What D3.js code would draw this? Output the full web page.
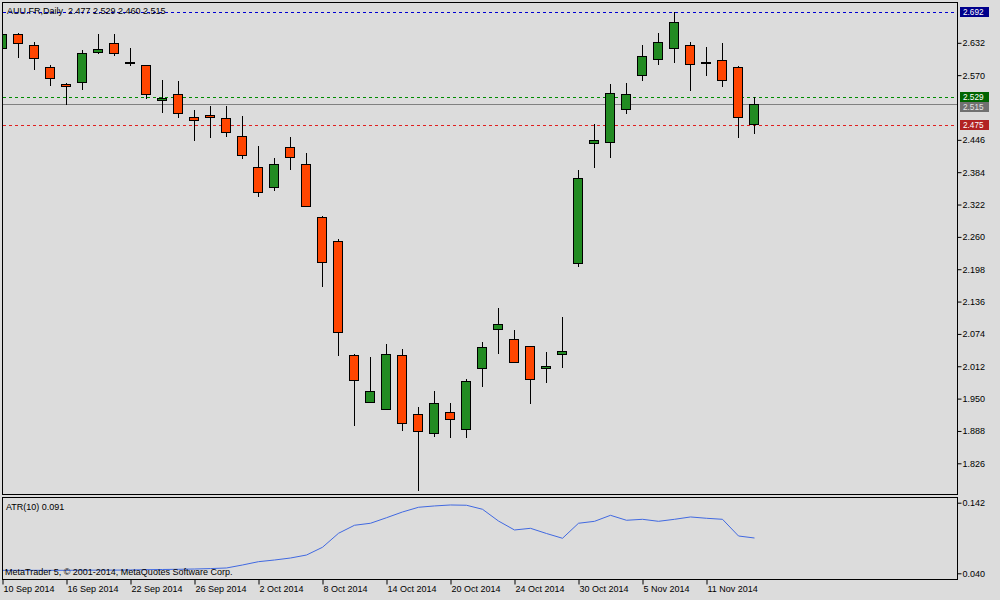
<!DOCTYPE html>
<html><head><meta charset="utf-8">
<script src="https://cdn.jsdelivr.net/npm/d3@7"></script>
<style>
body{margin:0;background:#dcdcdc}
svg{display:block}
text{font-family:"Liberation Sans",Arial,sans-serif;font-size:9px;fill:#000}
</style>
</head><body>
<svg id="chart" width="1000" height="600"></svg>
<script>
const header = "AUU.FR,Daily  2.477 2.529 2.460 2.515";
const atrTitle = "ATR(10) 0.091";
const copyright = "MetaTrader 5, © 2001-2014, MetaQuotes Software Corp.";

const dates = ["10 Sep 2014","11 Sep 2014","12 Sep 2014","15 Sep 2014","16 Sep 2014","17 Sep 2014","18 Sep 2014","19 Sep 2014","22 Sep 2014","23 Sep 2014","24 Sep 2014","25 Sep 2014","26 Sep 2014","29 Sep 2014","30 Sep 2014",
"1 Oct 2014","2 Oct 2014","3 Oct 2014","6 Oct 2014","7 Oct 2014","8 Oct 2014","9 Oct 2014","10 Oct 2014","13 Oct 2014","14 Oct 2014","15 Oct 2014","16 Oct 2014","17 Oct 2014","20 Oct 2014","21 Oct 2014","22 Oct 2014","23 Oct 2014","24 Oct 2014","27 Oct 2014","28 Oct 2014","29 Oct 2014","30 Oct 2014","31 Oct 2014",
"3 Nov 2014","4 Nov 2014","5 Nov 2014","6 Nov 2014","7 Nov 2014","10 Nov 2014","11 Nov 2014","12 Nov 2014","13 Nov 2014","14 Nov 2014"];

const open  = [2.622,2.649,2.628,2.586,2.553,2.557,2.614,2.631,2.595,2.589,2.522,2.534,2.490,2.493,2.488,2.453,2.394,2.355,2.432,2.399,2.298,2.252,2.033,1.943,1.931,2.033,1.920,1.884,1.924,1.891,2.008,2.083,2.064,2.050,2.008,2.035,2.210,2.439,2.442,2.505,2.570,2.601,2.622,2.628,2.596,2.599,2.585,2.477];
const high  = [2.650,2.650,2.634,2.590,2.554,2.619,2.649,2.649,2.622,2.590,2.561,2.559,2.504,2.511,2.511,2.492,2.435,2.412,2.452,2.421,2.300,2.255,2.036,2.029,2.055,2.045,1.934,1.965,1.942,1.988,2.059,2.124,2.082,2.050,2.039,2.107,2.389,2.476,2.553,2.555,2.628,2.651,2.692,2.634,2.624,2.631,2.588,2.529];
const low   = [2.621,2.604,2.581,2.552,2.514,2.544,2.612,2.608,2.589,2.527,2.500,2.489,2.445,2.452,2.454,2.412,2.339,2.350,2.391,2.320,2.165,2.034,1.900,1.943,1.930,1.890,1.775,1.879,1.877,1.877,1.975,2.038,2.020,1.942,1.981,2.011,2.205,2.393,2.414,2.497,2.560,2.592,2.596,2.541,2.571,2.550,2.451,2.460];
const close = [2.649,2.632,2.603,2.564,2.549,2.612,2.620,2.612,2.595,2.534,2.526,2.497,2.484,2.490,2.461,2.417,2.346,2.399,2.413,2.320,2.212,2.078,1.985,1.964,2.035,1.903,1.887,1.941,1.910,1.983,2.048,2.093,2.020,1.987,2.012,2.041,2.373,2.445,2.536,2.534,2.607,2.633,2.672,2.591,2.596,2.561,2.490,2.515];
const atr   = [0.0443,0.0443,0.0443,0.0443,0.0443,0.0445,0.0445,0.0446,0.0448,0.0452,0.0455,0.0458,0.0462,0.0468,0.0477,0.0520,0.0568,0.0592,0.0621,0.0664,0.0776,0.0978,0.1094,0.1123,0.1203,0.1286,0.1354,0.1373,0.1387,0.1383,0.1325,0.1155,0.1026,0.1050,0.0975,0.0906,0.1123,0.1151,0.1238,0.1166,0.1180,0.1151,0.1180,0.1214,0.1195,0.1180,0.0939,0.0910];

const priceTicks = [1.826,1.888,1.950,2.012,2.074,2.136,2.198,2.260,2.322,2.384,2.446,2.570,2.632];
const atrTicks = [0.040,0.142];
const levelValues = [2.692, 2.529, 2.515, 2.475];
const levelLine   = ["#0000d0", "#008c00", "#808080", "#e02020"];
const levelBox    = ["#00008c", "#006400", "#707070", "#b22222"];
const levelDash   = ["3,3", "3,3", null, "3,3"];
const levelText   = ["#ffffff", "#ffffff", "#e4e4e4", "#ffffff"];

const n = dates.length;
const svg = d3.select("#chart");
const L = 2.5, R = 957.5, T = 2.5, B = 494.5, AT = 497.5, AB = 579.5;

svg.append("rect").attr("width",1000).attr("height",600).attr("fill","#dcdcdc");

const x = d3.scaleLinear().domain([0, n-1]).range([2.5, 2.5 + 16*(n-1)]);
const y = d3.scaleLinear().domain([1.826, 2.692]).range([463.3, 11.5]);
const ya = d3.scaleLinear().domain([0.040, 0.142]).range([573.3, 502.7]);
const cr = v => Math.round(v) + 0.5;

const defs = svg.append("defs");
defs.append("clipPath").attr("id","mainClip").append("rect").attr("x",3).attr("y",3).attr("width",954).attr("height",491);
defs.append("clipPath").attr("id","atrClip").append("rect").attr("x",3).attr("y",498).attr("width",954).attr("height",81);

// panel borders
svg.append("rect").attr("x",L).attr("y",T).attr("width",R-L).attr("height",B-T).attr("fill","none").attr("stroke","#000");
svg.append("rect").attr("x",L).attr("y",AT).attr("width",R-L).attr("height",AB-AT).attr("fill","none").attr("stroke","#000");

// right price axis
const yAxis = d3.axisRight(y).tickValues(priceTicks).tickSize(4).tickPadding(1).tickFormat(d3.format(".3f"));
const gy = svg.append("g").attr("transform",`translate(${R},0)`).call(yAxis);
gy.select(".domain").remove();
gy.selectAll(".tick line").attr("stroke","#000");
gy.selectAll(".tick text").attr("fill","#000");
gy.attr("font-size",null).attr("font-family",null);

// ATR axis
const aAxis = d3.axisRight(ya).tickValues(atrTicks).tickSize(4).tickPadding(1).tickFormat(d3.format(".3f"));
const ga = svg.append("g").attr("transform",`translate(${R},0)`).call(aAxis);
ga.select(".domain").remove();
ga.selectAll(".tick line").attr("stroke","#000");
ga.attr("font-size",null).attr("font-family",null);
ga.selectAll(".tick text").attr("fill","#000");

// bottom date axis
const xAxis = d3.axisBottom(x).tickValues(d3.range(0, n, 4)).tickSize(5).tickPadding(1).tickFormat(i => dates[i]);
const gx = svg.append("g").attr("transform",`translate(0,${AB})`).call(xAxis);
gx.select(".domain").remove();
gx.selectAll(".tick line").attr("stroke","#000");
gx.selectAll(".tick text").attr("text-anchor","start").attr("x",0.5).attr("fill","#000");
gx.attr("font-size",null).attr("font-family",null);

// level lines
const main = svg.append("g").attr("clip-path","url(#mainClip)");
levelValues.forEach((v,k) => {
  main.append("line").attr("x1",3).attr("x2",R).attr("y1",cr(y(v))).attr("y2",cr(y(v)))
    .attr("stroke",levelLine[k]).attr("stroke-dasharray",levelDash[k]);
});

// candles
const idx = d3.range(n);
const cg = main.append("g");
cg.selectAll("line.wick").data(idx).join("line").attr("class","wick")
  .attr("x1",i=>x(i)).attr("x2",i=>x(i))
  .attr("y1",i=>Math.round(y(high[i]))).attr("y2",i=>Math.round(y(low[i]))+1)
  .attr("stroke","#000");
cg.selectAll("rect.body").data(idx).join("rect").attr("class","body")
  .attr("x",i=>x(i)-5)
  .attr("y",i=>cr(y(Math.max(open[i],close[i]))))
  .attr("width",9)
  .attr("height",i=>Math.max(1, Math.round(y(Math.min(open[i],close[i]))) - Math.round(y(Math.max(open[i],close[i])))))
  .attr("fill",i=> close[i]>open[i] ? "#228b22" : (close[i]<open[i] ? "#ff4500" : "#000"))
  .attr("stroke","#000");

// level price boxes (stacked so that neighbours do not overlap, as the terminal does)
let prevBottom = -Infinity;
levelValues.forEach((v,k) => {
  let top = Math.round(y(v)) - 5;
  if (top < prevBottom) top = prevBottom;
  prevBottom = top + 10;
  svg.append("rect").attr("x",960).attr("y",top).attr("width",29).attr("height",10).attr("fill",levelBox[k]);
  svg.append("text").attr("x",963).attr("y",top+8).style("font-size","8.2px").style("fill",levelText[k]).text(d3.format(".3f")(v));
});

// header
svg.append("text").attr("x",7).attr("y",13.5).style("white-space","pre").text(header);

// ATR line
const ag = svg.append("g").attr("clip-path","url(#atrClip)");
ag.append("path").datum(idx)
  .attr("d", d3.line().x(i=>x(i)).y(i=>ya(atr[i])))
  .attr("fill","none").attr("stroke","#4169e1").attr("stroke-width",1);
svg.append("text").attr("x",6).attr("y",510).text(atrTitle);
svg.append("text").attr("x",5).attr("y",574.5).text(copyright);
</script>
</body></html>
